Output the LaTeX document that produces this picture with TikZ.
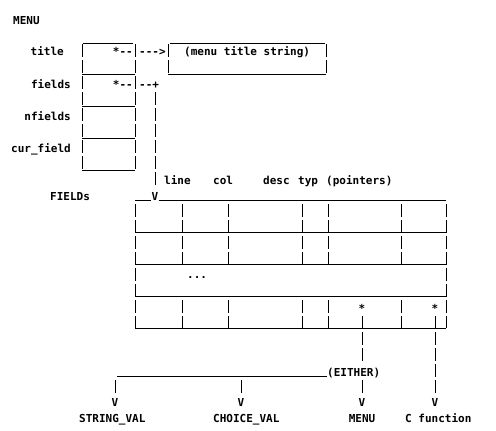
\documentclass[tikz,border=0pt]{standalone}
\usepackage{fontspec}
\setmonofont{DejaVu Sans Mono}
\usetikzlibrary{calc}

\tikzset{
  txt/.style={font=\ttfamily\bfseries\fontsize{11}{13}\selectfont,inner sep=0pt,
    text height=8pt,text depth=0pt},
  hbar/.style={line width=1pt},
  vbar/.style={line width=1pt,dash pattern=on 13pt off 3pt},
}

\begin{document}
\begin{tikzpicture}[x=1pt,y=-1pt]
\useasboundingbox (0,0) rectangle (496,431);

% MENU struct
\node[txt,anchor=west] (menu) at (13,20) {MENU};
\node[txt,anchor=east] (title) at (64,52) {title};
\node[txt,anchor=east] (fields) at (71,84) {fields};
\node[txt,anchor=east] (nfields) at (71,116) {nfields};
\node[txt,anchor=east] (curfield) at (71,148) {cur\_field};

\draw[hbar] (83,43) -- (133,43);
\foreach \y in {74,106,138,170}
  \draw[hbar] (82,\y) -- (135,\y);
\foreach \x in {82,135}
  \draw[vbar] (\x,44) -- (\x,170);

\node[txt,anchor=east] (tptr) at (133,52) {*--};
\node[txt,anchor=east] (fptr) at (133,84) {*--};
\node[txt,anchor=west] (tarrow) at (139,52) {--->};
\node[txt,anchor=west] (fplus) at (139,84) {--+};

% title string
\draw[hbar] (170,43) -- (325,43);
\draw[hbar] (168,74) -- (326,74);
\foreach \x in {168,326}
  \draw[vbar] (\x,44) -- (\x,74);
\node[txt,anchor=west] (tstring) at (184,52) {(menu title string)};

% FIELDs array
\node[txt,anchor=west] (fieldsarr) at (50,196) {FIELDs};
\node[txt] (fv) at (155,196) {V};
\coordinate (fdown) at (155,92);
\draw[vbar,shorten >=7pt] (fdown) -- (fv.north);

\foreach \n/\x/\t in {hline/164/line,hcol/213/col,hdesc/263/desc,htyp/298/typ,hptr/326/{(pointers)}}
  \node[txt,anchor=west] (\n) at (\x,180) {\t};

\coordinate (tl) at (135,200);
\coordinate (tr) at (446,200);
\draw[hbar] (tl) -- (fv.base west);
\draw[hbar] (fv.base east) -- (tr);
\foreach \y in {232,264,296,328}
  \draw[hbar] (135,\y) -- (446,\y);
\foreach \x in {135,446}
  \draw[vbar] (\x,204) -- (\x,328);
\foreach \x in {182,228,302,328,401}{
  \draw[vbar] (\x,204) -- (\x,264);
  \draw[vbar] (\x,300) -- (\x,328);
}
\node[txt,anchor=west] (dots) at (187,274) {...};
\node[txt] (s1) at (362,308) {*};
\node[txt] (s2) at (435,308) {*};

% EITHER
\node[txt,anchor=west] (either) at (327,372) {(EITHER)};
\coordinate (split) at (117,376);
\draw[hbar] (split) -- (either.base west);

\foreach \n/\x in {v1/115,v2/241,v3/362,v4/435}
  \node[txt] (\n) at (\x,402) {V};
\node[txt,anchor=west] (strval) at (79,418) {STRING\_VAL};
\node[txt,anchor=west] (choiceval) at (213,418) {CHOICE\_VAL};
\node[txt] (menuval) at (362,418) {MENU};
\node[txt,anchor=west] (cfunc) at (405,418) {C function};

\draw[vbar,shorten <=4pt,shorten >=7pt] (s1.south) -- (s1.south |- either.north);
\draw[vbar,shorten <=4pt,shorten >=5pt] (v3 |- either.south) -- (v3.north);
\draw[vbar,shorten <=4pt,shorten >=5pt] (v1 |- split) -- (v1.north);
\draw[vbar,shorten <=4pt,shorten >=5pt] (v2 |- split) -- (v2.north);
\draw[vbar,shorten <=4pt,shorten >=5pt] (s2.south) -- (v4.north);

\end{tikzpicture}
\end{document}
